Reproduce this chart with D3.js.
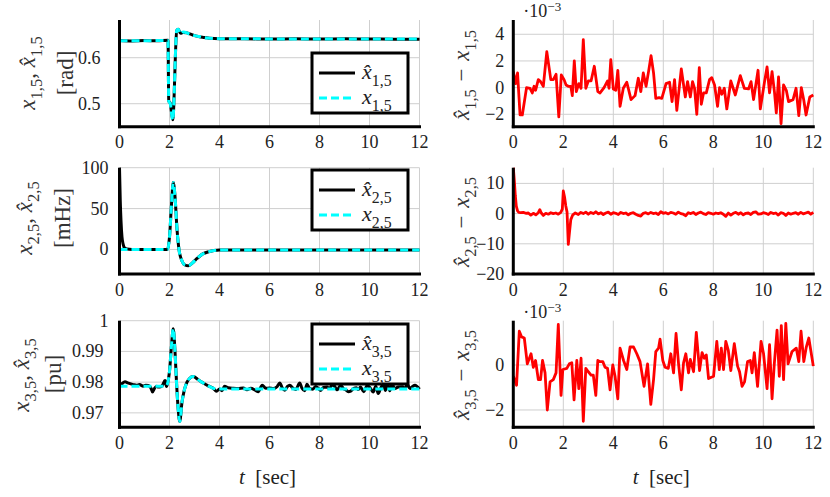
<!DOCTYPE html>
<html>
<head>
<meta charset="utf-8">
<script src="https://cdn.jsdelivr.net/npm/d3@7"></script>
<style>
  html, body { margin: 0; padding: 0; background: #fff; }
</style>
</head>
<body>
<div id="chart"></div>
<script>
/* Three states of bus 5 (true vs estimated) on the left, estimation error on the right.
   Values as [t, value] pairs. */

const xTicks = [0, 2, 4, 6, 8, 10, 12];

// x_{1,5} [rad]
const x1True = [[0,0.637],[1,0.637],[1.94,0.6375],[1.97,0.505],[2.03,0.5],[2.13,0.464],[2.29,0.66],[2.35,0.662],
  [2.44,0.652],[2.55,0.656],[2.7,0.654],[2.81,0.651],[3,0.648],[3.2,0.646],[3.4,0.6435],[3.6,0.6425],[4,0.6415],[5,0.641],[12,0.6408]];
const x1Est = [[0,0.6375],[0.5,0.6365],[1,0.6372],[1.5,0.6368],[1.94,0.6378],[1.97,0.506],[2.03,0.501],[2.13,0.465],[2.29,0.659],
  [2.35,0.662],[2.44,0.653],[2.55,0.655],[2.7,0.654],[2.81,0.652],[3,0.648],[3.2,0.6455],[3.4,0.644],[3.6,0.6422],[4,0.6412],
  [5,0.6412],[6,0.6406],[7,0.641],[8,0.6405],[9,0.6412],[10,0.6406],[11,0.6404],[12,0.6402]];

// x_{2,5} [mHz]
const x2True = [[0,0],[1.92,0],[2,15],[2.08,55],[2.15,82],[2.22,65],[2.3,25],[2.38,0],[2.5,-14],[2.62,-19],[2.75,-20],
  [2.9,-17],[3.1,-11],[3.3,-6],[3.6,-2.5],[4,-0.8],[4.4,-0.5],[12,-0.8]];
const x2Est = [[0,100],[0.03,60],[0.06,35],[0.1,15],[0.15,6],[0.2,2],[0.3,0.5],[0.5,0],[1.92,0],[2,15],[2.08,55],[2.15,82],
  [2.22,65],[2.3,25],[2.38,0],[2.5,-14],[2.62,-19],[2.75,-20],[2.9,-17],[3.1,-11],[3.3,-6],[3.6,-2.5],[4,-0.8],[4.4,-0.5],[12,-0.8]];

// x_{3,5} [pu]
const x3True = [[0,0.9787],[1.85,0.9787],[1.92,0.9795],[2,0.9835],[2.08,0.992],[2.15,0.9974],[2.22,0.99],[2.28,0.98],
  [2.35,0.971],[2.41,0.9672],[2.5,0.9735],[2.58,0.977],[2.65,0.979],[2.8,0.9812],[2.95,0.9818],[3.15,0.9808],[3.35,0.9797],
  [3.55,0.9788],[3.75,0.978],[4,0.9778],[12,0.9778]];
const x3Est = [[0,0.9787],[0.1,0.9795],[0.22,0.9801],[0.35,0.9797],[0.42,0.9795],[0.55,0.9792],[0.69,0.979],[0.8,0.9792],
  [0.95,0.9787],[1.05,0.979],[1.15,0.9789],[1.25,0.9782],[1.32,0.9768],[1.4,0.978],[1.49,0.9787],[1.55,0.9784],[1.62,0.9784],
  [1.72,0.979],[1.82,0.9805],[1.88,0.9786],[1.92,0.9795],[2,0.9835],[2.08,0.992],[2.15,0.9974],[2.22,0.99],[2.28,0.98],
  [2.35,0.971],[2.41,0.9672],[2.5,0.9735],[2.58,0.977],[2.65,0.979],[2.8,0.9812],[2.95,0.9818],[3.15,0.9808],[3.35,0.9797],
  [3.55,0.9788],[3.75,0.978],[3.88,0.977],[4,0.9778],[4.1,0.9772],[4.2,0.9787],[4.35,0.9782],[4.55,0.978],[4.75,0.9779],
  [4.95,0.9781],[5.1,0.9775],[5.25,0.978],[5.44,0.9773],[5.55,0.9769],[5.71,0.979],[5.85,0.978],[6,0.9781],[6.15,0.9779],
  [6.3,0.9785],[6.41,0.9797],[6.52,0.978],[6.61,0.9774],[6.72,0.9786],[6.81,0.979],[6.95,0.9779],[7.05,0.9776],[7.21,0.9797],
  [7.3,0.978],[7.41,0.9772],[7.5,0.9793],[7.6,0.978],[7.72,0.9777],[7.85,0.9786],[7.95,0.978],[8.05,0.9773],[8.15,0.9783],
  [8.3,0.9784],[8.4,0.9779],[8.5,0.9791],[8.6,0.9787],[8.7,0.9775],[8.85,0.979],[8.97,0.9778],[9.05,0.9775],[9.15,0.9769],
  [9.25,0.9771],[9.37,0.978],[9.48,0.9782],[9.55,0.9776],[9.64,0.9784],[9.77,0.9769],[9.91,0.9789],[10.01,0.9783],
  [10.15,0.9768],[10.25,0.9787],[10.35,0.9763],[10.44,0.9779],[10.55,0.9793],[10.64,0.9773],[10.72,0.9795],[10.81,0.9772],
  [10.91,0.9797],[10.99,0.9779],[11.15,0.9784],[11.32,0.9785],[11.42,0.9779],[11.51,0.9793],[11.62,0.9779],[11.72,0.9786],
  [11.82,0.979],[12,0.9777]];

// estimation errors (x1, x3 in 1e-3)
const err1 = [[0,1.2],[0.09,0.3],[0.17,1.1],[0.27,-2.05],[0.36,-2.05],[0.53,0],[0.67,-0.05],[0.76,-0.4],[0.83,0.1],[0.89,-0.2],
  [1,0.6],[1.09,0.45],[1.2,0.1],[1.34,2.7],[1.5,0.6],[1.6,0.6],[1.71,1],[1.82,-2.2],[1.92,0.95],[2.03,0.6],[2.11,0.2],[2.2,0.1],
  [2.3,0.1],[2.36,-0.6],[2.44,2],[2.52,-0.3],[2.62,0.3],[2.71,-0.05],[2.8,3.6],[2.9,-0.05],[3,0.5],[3.11,0.5],[3.24,1.6],
  [3.38,-0.3],[3.47,-0.4],[3.63,0],[3.77,0.5],[3.83,-0.05],[3.9,2.1],[4,-0.1],[4.1,-0.2],[4.18,1.3],[4.27,-1.4],[4.4,-0.05],
  [4.54,0.4],[4.71,-0.9],[4.87,-0.6],[5,0.7],[5.1,-0.3],[5.2,1.1],[5.31,0.1],[5.41,1.2],[5.51,2.4],[5.61,1.1],[5.7,-0.8],
  [5.83,-0.75],[5.94,-0.8],[6.11,0.3],[6.25,0.4],[6.35,-1.05],[6.45,0.6],[6.54,-1.7],[6.72,1.4],[6.88,-0.7],[6.97,0.45],
  [7.08,-0.7],[7.17,0.45],[7.25,-0.05],[7.34,-2],[7.44,1.5],[7.52,-1.25],[7.61,-0.4],[7.72,-0.4],[7.85,0.6],[7.94,0.75],
  [8.05,0.2],[8.17,-1.4],[8.25,0],[8.34,-0.5],[8.44,-0.05],[8.54,-1.6],[8.7,0.5],[8.88,-0.55],[9.08,0.9],[9.24,-0.05],
  [9.41,-0.1],[9.51,0.45],[9.61,-0.9],[9.79,1.3],[9.88,-1.6],[10.05,0.45],[10.15,1.55],[10.25,-0.4],[10.35,1.2],[10.45,-0.4],
  [10.52,-1.9],[10.61,0.8],[10.71,-2.7],[10.81,0.2],[10.92,-0.2],[11.01,-1.05],[11.19,-0.9],[11.31,-0.05],[11.42,-2.1],
  [11.52,0],[11.62,-0.95],[11.71,-2.05],[11.86,-0.7],[12,-0.55]];

const err2 = [[0,15.2],[0.04,11],[0.08,6],[0.12,2.5],[0.17,0.9],[0.22,0.4],[0.3,0.3],[0.4,0.4],[0.5,0.1],[0.6,0.2],[0.7,-0.5],
  [0.8,0.1],[0.9,-0.4],[1,0.3],[1.06,1.3],[1.12,0.2],[1.2,-0.6],[1.3,0.1],[1.4,-0.2],[1.5,0.3],[1.6,0],[1.7,0.2],[1.8,-0.2],
  [1.9,0.4],[1.96,1.5],[2,7.5],[2.05,5.5],[2.1,2.5],[2.15,0.5],[2.2,-10.2],[2.25,-6],[2.3,-2],[2.38,-0.4],[2.48,0.2],[2.6,-0.3],
  [2.7,0.4],[2.8,0],[2.9,0.5],[3,-0.2],[3.1,0.4],[3.2,0],[3.3,0.6],[3.4,-0.1],[3.5,0.3],[3.6,-0.3],[3.7,0.2],[3.8,0.5],[3.9,-0.2],
  [4,0.3],[4.1,0.1],[4.2,-0.3],[4.3,0.4],[4.4,0],[4.5,0.2],[4.6,-0.4],[4.7,0.1],[4.8,0.3],[4.9,-0.2],[5,-0.6],[5.1,-0.8],[5.2,0.1],
  [5.3,0.3],[5.4,-0.1],[5.5,0.4],[5.6,0],[5.7,0.2],[5.8,-0.3],[5.9,0.6],[6,0.1],[6.1,0.3],[6.2,-0.1],[6.3,0.4],[6.4,0.2],
  [6.5,-0.2],[6.6,0.5],[6.7,0],[6.8,-0.2],[6.9,-0.7],[7,0.3],[7.1,0],[7.2,0.4],[7.3,-0.3],[7.4,0.2],[7.5,0.5],[7.6,0],[7.7,-0.3],
  [7.8,0.3],[7.9,0.1],[8,-0.2],[8.1,0.2],[8.2,0],[8.3,0.3],[8.4,-0.2],[8.5,-0.9],[8.6,0.2],[8.7,-0.5],[8.8,0.1],[8.9,0.4],
  [9,-0.2],[9.1,0.3],[9.2,-0.4],[9.3,0.1],[9.4,0.2],[9.5,-0.3],[9.6,0.4],[9.7,0.6],[9.8,-0.2],[9.9,-0.1],[10,0.3],[10.1,0.1],
  [10.2,-0.3],[10.3,0.4],[10.4,0],[10.5,0.2],[10.6,-0.5],[10.7,0.3],[10.8,0.1],[10.9,-0.6],[11,0.2],[11.1,-0.2],[11.2,0.1],
  [11.3,0.3],[11.4,-0.2],[11.5,0.4],[11.6,-0.1],[11.7,0.2],[11.8,0.5],[11.9,-0.2],[12,0.4]];

const err3 = [[0,-0.5],[0.13,-0.9],[0.24,1.5],[0.33,1.25],[0.44,1.2],[0.56,0.05],[0.71,0.5],[0.8,-0.1],[0.89,0.2],[1,-0.65],
  [1.09,-0.65],[1.17,0.2],[1.27,-0.35],[1.36,-2],[1.47,-0.75],[1.6,-0.65],[1.71,-0.35],[1.8,1.8],[1.91,-1.35],[1.98,-0.2],
  [2.14,-0.15],[2.24,0.05],[2.34,0.1],[2.43,-1.55],[2.54,0.2],[2.62,-1.05],[2.71,0.3],[2.8,-2.5],[2.9,-0.15],[3,-0.3],
  [3.11,-0.45],[3.2,-0.45],[3.3,-1.35],[3.38,0.2],[3.47,0.15],[3.58,0.15],[3.67,-0.1],[3.77,-0.15],[3.87,-1.1],[3.98,0],
  [4.07,-0.5],[4.18,-1.5],[4.27,0.75],[4.41,0.2],[4.54,-0.2],[4.67,0.8],[4.81,0.8],[4.94,0.5],[5.07,0.15],[5.23,-0.95],
  [5.37,0.05],[5.5,-1.75],[5.61,-0.65],[5.7,0.6],[5.81,0.75],[5.87,1.15],[5.98,0.2],[6.07,-0.1],[6.2,-0.15],[6.3,0.5],
  [6.41,-0.35],[6.51,1.4],[6.61,0.05],[6.72,-1.1],[6.81,0.1],[6.9,0.5],[7.01,-0.35],[7.08,0.25],[7.21,-0.3],[7.32,1.45],
  [7.45,-0.25],[7.55,0.55],[7.64,0.3],[7.72,0.45],[7.81,-0.6],[8.01,-0.5],[8.14,1.05],[8.24,-0.2],[8.32,0.75],[8.41,-0.2],
  [8.5,1.05],[8.6,0.65],[8.7,-0.25],[8.84,0.95],[8.97,-0.05],[9.05,-0.3],[9.15,-0.95],[9.25,-0.75],[9.37,0.15],[9.48,0.2],
  [9.55,-0.35],[9.64,0.55],[9.77,-0.95],[9.91,1.05],[10.01,0.5],[10.15,-1.05],[10.25,0.9],[10.35,-1.5],[10.44,0.05],
  [10.55,1.55],[10.64,-0.5],[10.72,1.75],[10.81,-0.65],[10.9,1.85],[10.99,0.05],[11.15,0.6],[11.32,0.75],[11.42,0.15],
  [11.51,1.5],[11.62,0.15],[11.72,0.8],[11.82,1.2],[12,-0.05]];

const yTicksTL = [0.5, 0.6], yLabTL = ["0.5", "0.6"];
const yTicksML = [0, 50, 100], yLabML = ["0", "50", "100"];
const yTicksBL = [0.97, 0.98, 0.99, 1], yLabBL = ["0.97", "0.98", "0.99", "1"];
const yTicksTR = [-2, 0, 2, 4], yLabTR = ["\u22122", "0", "2", "4"];
const yTicksMR = [-20, -10, 0, 10], yLabMR = ["\u221220", "\u221210", "0", "10"];
const yTicksBR = [-2, 0], yLabBR = ["\u22122", "0"];

const W = 830, H = 497;
const FONT = "'Liberation Serif'";
const svg = d3.select("#chart").append("svg").attr("width", W).attr("height", H).style("display", "block");

const cols = [{ x0: 119.5, x1: 419.5 }, { x0: 513.3, x1: 813.3 }];
const rows = [{ y0: 20, y1: 126.7 }, { y0: 167.7, y1: 274 }, { y0: 320.7, y1: 427.3 }];

// every text gets the serif family set on itself
const txt = (sel, size, fill) => sel.append("text").attr("font-family", FONT)
  .attr("font-size", size).attr("fill", fill || "#222");

// parts: [text, kind]  kind "i" italic, "s" subscript, "r" roman
function mathText(sel, parts, size) {
  let shift = 0;
  parts.forEach(([s, k]) => {
    const target = k === "s" ? size * 0.3 : 0;
    const ts = sel.append("tspan").attr("font-family", FONT).text(s).attr("dy", target - shift);
    shift = target;
    if (k === "i") ts.attr("font-style", "italic");
    if (k === "s") ts.attr("font-size", size * 0.72);
  });
}
const hat = (n) => [["x\u0302", "i"], [n, "s"]];
const pl = (n) => [["x", "i"], [n, "s"]];

let clipN = 0;
function panel(p) {
  const x = d3.scaleLinear().domain([0, 12]).range([p.c.x0, p.c.x1]);
  const y = d3.scaleLinear().domain(p.yDom).range([p.r.y1, p.r.y0]);
  const g = svg.append("g");

  // grid
  g.selectAll(null).data(xTicks.slice(1)).join("line")
    .attr("x1", x).attr("x2", x).attr("y1", p.r.y0).attr("y2", p.r.y1)
    .attr("stroke", "#cfcfcf").attr("stroke-width", 1);
  g.selectAll(null).data(p.yTicks).join("line")
    .attr("x1", p.c.x0).attr("x2", p.c.x1).attr("y1", y).attr("y2", y)
    .attr("stroke", "#cfcfcf").attr("stroke-width", 1);

  const cid = "clip" + (clipN++);
  g.append("clipPath").attr("id", cid).append("rect")
    .attr("x", p.c.x0).attr("y", p.r.y0 - 2).attr("width", p.c.x1 - p.c.x0 + 2).attr("height", p.r.y1 - p.r.y0 + 2);
  const lg = g.append("g").attr("clip-path", `url(#${cid})`);
  p.series.forEach((s) => {
    const line = d3.line().x((d) => x(d[0])).y((d) => y(d[1]))
      .curve(s.smooth ? d3.curveMonotoneX : d3.curveLinear);
    lg.append("path").datum(s.data).attr("d", line)
      .attr("fill", "none").attr("stroke", s.color).attr("stroke-width", s.width)
      .attr("stroke-dasharray", s.dash || null).attr("stroke-linejoin", "round");
  });

  // axis lines
  g.append("line").attr("x1", p.c.x0).attr("x2", p.c.x0).attr("y1", p.r.y0).attr("y2", p.r.y1 + 1.5)
    .attr("stroke", "#000").attr("stroke-width", 3);
  g.append("line").attr("x1", p.c.x0 - 1.5).attr("x2", p.c.x1 + 1.5).attr("y1", p.r.y1).attr("y2", p.r.y1)
    .attr("stroke", "#000").attr("stroke-width", 3);

  // tick labels
  xTicks.forEach((d) => {
    txt(g, 18).attr("x", x(d)).attr("y", p.r.y1 + 21.5).attr("text-anchor", "middle").text(d);
  });
  p.yTicks.forEach((d, i) => {
    const lab = p.yLab[i];
    txt(g, 18).attr("x", p.c.x0 - (lab.includes(".") ? p.gapDec : p.gap))
      .attr("y", y(d) + 6).attr("text-anchor", "end").text(lab);
  });

  // y labels (rotated)
  p.ylabels.forEach((l) => {
    const t = txt(g, 23, "#333").attr("text-anchor", "middle")
      .attr("transform", `translate(${l.x},${l.y}) rotate(-90)`);
    mathText(t, l.parts, 23);
  });

  if (p.scaleNote) {
    const t = txt(g, 18).attr("x", p.c.x0 + 10).attr("y", p.r.y0 - 3);
    t.append("tspan").attr("font-family", FONT).text("\u00b710");
    t.append("tspan").attr("font-family", FONT).text("\u22123").attr("font-size", 13).attr("dy", -6);
  }

  if (p.legend) {
    const L = p.legend;
    const lgd = g.append("g").attr("transform", `translate(${L.x},${L.y})`);
    lgd.append("rect").attr("width", 96).attr("height", 60).attr("fill", "#fff")
      .attr("stroke", "#000").attr("stroke-width", 3);
    L.items.forEach((it, i) => {
      const yy = 20 + i * 25;
      lgd.append("line").attr("x1", 7).attr("x2", 43).attr("y1", yy).attr("y2", yy)
        .attr("stroke", it.color).attr("stroke-width", 3).attr("stroke-dasharray", it.dash || null);
      const t = txt(lgd, 22).attr("x", 50).attr("y", yy + 6);
      mathText(t, it.parts, 22);
    });
  }
}

const blk = (data) => ({ data, color: "#000", width: 3, smooth: true });
const cyn = (data) => ({ data, color: "#00ffff", width: 3, dash: "8,4", smooth: true });
const red = (data) => ({ data, color: "#ff0000", width: 2.8 });
const MINUS = [["\u2004\u2212\u2004", "r"]];

panel({ c: cols[0], r: rows[0], yDom: [0.45, 0.682], yTicks: yTicksTL, yLab: yLabTL, gap: 11, gapDec: 19,
  series: [blk(x1Est), cyn(x1True)],
  ylabels: [{ x: 35, y: 73, parts: [...pl("1,5"), [", ", "r"], ...hat("1,5")] },
            { x: 73, y: 73, parts: [["[rad]", "r"]] }],
  legend: { x: 312, y: 53, items: [{ color: "#000", parts: hat("1,5") }, { color: "#00ffff", dash: "8,4", parts: pl("1,5") }] } });

panel({ c: cols[1], r: rows[0], yDom: [-2.93, 5.07], yTicks: yTicksTR, yLab: yLabTR, gap: 9, gapDec: 9,
  series: [red(err1)], scaleNote: true,
  ylabels: [{ x: 469, y: 75, parts: [...hat("1,5"), ...MINUS, ...pl("1,5")] }] });

panel({ c: cols[0], r: rows[1], yDom: [-30, 100], yTicks: yTicksML, yLab: yLabML, gap: 11, gapDec: 17,
  series: [blk(x2Est), cyn(x2True)],
  ylabels: [{ x: 32, y: 218, parts: [...pl("2,5"), [", ", "r"], ...hat("2,5")] },
            { x: 70, y: 218, parts: [["[mHz]", "r"]] }],
  legend: { x: 312, y: 170, items: [{ color: "#000", parts: hat("2,5") }, { color: "#00ffff", dash: "8,4", parts: pl("2,5") }] } });

panel({ c: cols[1], r: rows[1], yDom: [-20, 15.2], yTicks: yTicksMR, yLab: yLabMR, gap: 9, gapDec: 9,
  series: [red(err2)],
  ylabels: [{ x: 469, y: 222, parts: [...hat("2,5"), ...MINUS, ...pl("2,5")] }] });

panel({ c: cols[0], r: rows[2], yDom: [0.9653, 1.0], yTicks: yTicksBL, yLab: yLabBL, gap: 11, gapDec: 16,
  series: [blk(x3Est), cyn(x3True)],
  ylabels: [{ x: 29, y: 375, parts: [...pl("3,5"), [", ", "r"], ...hat("3,5")] },
            { x: 61, y: 374, parts: [["[pu]", "r"]] }],
  legend: { x: 312, y: 324, items: [{ color: "#000", parts: hat("3,5") }, { color: "#00ffff", dash: "8,4", parts: pl("3,5") }] } });

panel({ c: cols[1], r: rows[2], yDom: [-2.77, 1.97], yTicks: yTicksBR, yLab: yLabBR, gap: 9, gapDec: 9,
  series: [red(err3)], scaleNote: true,
  ylabels: [{ x: 469, y: 375, parts: [...hat("3,5"), ...MINUS, ...pl("3,5")] }] });

// x-axis titles
[cols[0], cols[1]].forEach((c) => {
  const t = txt(svg, 21).attr("x", (c.x0 + c.x1) / 2 - 2).attr("y", 484).attr("text-anchor", "middle");
  t.append("tspan").attr("font-family", FONT).text("t").attr("font-style", "italic");
  t.append("tspan").attr("font-family", FONT).text("\u2002[sec]");
});
</script>
</body>
</html>
